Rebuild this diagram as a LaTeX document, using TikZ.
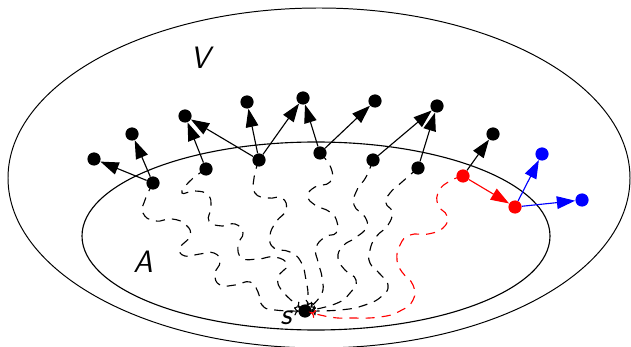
\documentclass[tikz,border=0pt]{standalone}
\usepackage{tikz}
\usetikzlibrary{arrows.meta}

\begin{document}
\begin{tikzpicture}[
      x=0.025cm, y=-0.025cm,
      pt/.style={circle,fill,inner sep=0pt,minimum size=0.33cm},
      arr/.style={-{Triangle[length=13pt,width=9pt]},line width=0.8pt},
      walk/.style={dash pattern=on 6.5pt off 5pt,line width=0.8pt,-{To[length=3pt,width=6pt]},
                   shorten >=4.6pt},
      lbl/.style={font=\sffamily\itshape\fontsize{22}{24}\selectfont},
    ]
    \useasboundingbox (0,0) rectangle (631,347);
    % the two sets
    \draw[line width=0.7pt] (319,178) ellipse [x radius=311, y radius=170];
    \draw[line width=0.8pt] (316,236) ellipse [x radius=234, y radius=94];
    \node[lbl] (V) at (200,58) {V};
    \node[lbl] (A) at (143,262) {A};
    \node[lbl] (slbl) at (286,318) {s};
    % source
    \node[pt] (s) at (305,311) {};
    % points of A on its border
    \node[pt] (a1) at (153,183) {};
    \node[pt] (a2) at (206,169) {};
    \node[pt] (a3) at (259,160) {};
    \node[pt] (a4) at (320,153) {};
    \node[pt] (a5) at (373,160) {};
    \node[pt] (a6) at (418,168) {};
    \node[pt,red] (r1) at (463,176) {};
    \node[pt,red] (r2) at (515,207) {};
    % points outside A
    \node[pt] (b1) at (94,159) {};
    \node[pt] (b2) at (132,134) {};
    \node[pt] (b3) at (185,116) {};
    \node[pt] (b4) at (247,102) {};
    \node[pt] (b5) at (303,98) {};
    \node[pt] (b6) at (375,101) {};
    \node[pt] (b7) at (437,106) {};
    \node[pt] (b8) at (493,134) {};
    \node[pt,blue] (c1) at (542,154) {};
    \node[pt,blue] (c2) at (582,200) {};

    % walks from the border back to s
    \draw[walk] plot[smooth,tension=0.85] coordinates {(a1) (145,200) (143,213) (155,221) (172,219)
      (186,225) (190,236) (180,248) (185,256) (200,254) (214,253) (220,262) (215,274) (220,285)
      (235,285) (250,282) (258,292) (262,305) (275,310) (s)};
    \draw[walk] plot[smooth,tension=0.85] coordinates {(a2) (190,181) (182,193) (195,191) (208,195)
      (211,207) (209,221) (222,226) (235,224) (243,233) (238,245) (242,258) (258,259) (275,257)
      (287,265) (278,278) (284,293) (s)};
    \draw[walk] plot[smooth,tension=0.85] coordinates {(a3) (254,178) (255,193) (268,198) (282,198)
      (286,210) (276,222) (270,236) (274,248) (290,252) (301,262) (306,280) (308,298) (s)};
    \draw[walk] plot[smooth,tension=0.85] coordinates {(a4) (331,168) (330,182) (315,187) (308,196)
      (315,205) (330,212) (337,222) (336,233) (325,237) (316,248) (318,262) (322,278) (321,295) (s)};
    \draw[walk] plot[smooth,tension=0.85] coordinates {(a5) (366,177) (357,190) (354,205) (365,217)
      (366,228) (355,238) (343,246) (338,258) (345,270) (356,280) (350,293) (335,304) (s)};
    \draw[walk] plot[smooth,tension=0.85] coordinates {(a6) (402,182) (390,193) (386,203) (392,212)
      (388,225) (376,237) (370,250) (370,263) (380,274) (388,285) (382,296) (365,305) (340,310) (s)};
    \draw[walk,red] plot[smooth,tension=0.85] coordinates {(r1) (450,181) (439,191) (438,205) (447,216)
      (443,228) (428,234) (410,235) (400,245) (397,260) (402,272) (413,285) (413,300) (400,311)
      (380,317) (350,318) (330,317) (s)};

    % edges leaving A
    \draw[arr] (a1)--(b1);
    \draw[arr] (a1)--(b2);
    \draw[arr] (a2)--(b3);
    \draw[arr] (a3)--(b3);
    \draw[arr] (a3)--(b4);
    \draw[arr] (a3)--(b5);
    \draw[arr] (a4)--(b5);
    \draw[arr] (a4)--(b6);
    \draw[arr] (a5)--(b7);
    \draw[arr] (a6)--(b7);
    \draw[arr] (r1)--(b8);
    \draw[arr,red] (r1)--(r2);
    \draw[arr,blue] (r2)--(c1);
    \draw[arr,blue] (r2)--(c2);
  \end{tikzpicture}
\end{document}
